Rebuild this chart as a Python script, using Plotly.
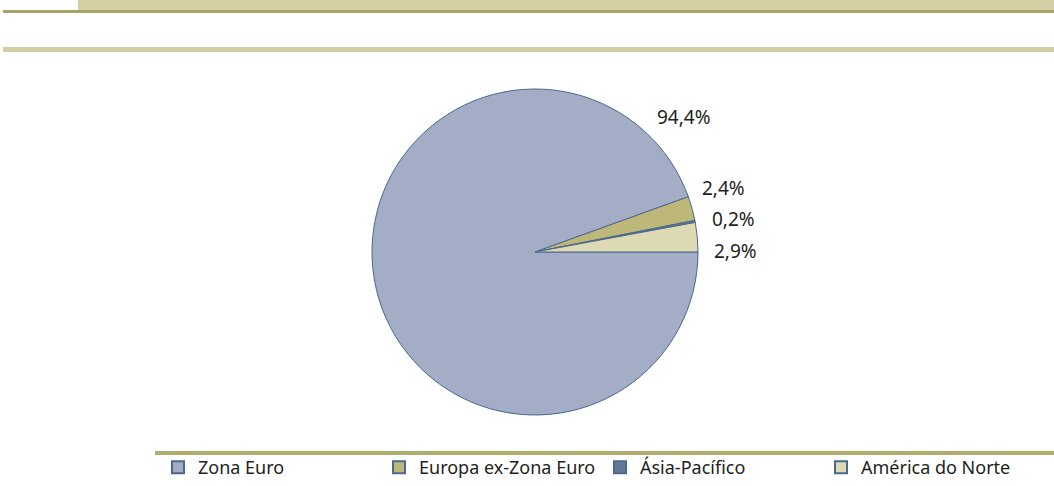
import plotly.graph_objects as go

labels = ["Zona Euro", "Europa ex-Zona Euro", "Ásia-Pacífico", "América do Norte"]
values = [94.4, 2.4, 0.2, 2.9]
colors = ["#A3ADC6", "#BDB87A", "#647895", "#DDD9B3"]
label_text = ["94,4%", "2,4%", "0,2%", "2,9%"]
label_pos = [(655, 117), (700, 188), (710, 219), (712, 251)]  # text anchor positions (px)

W, H = 1054, 486
cx, cy, r = 535, 252, 163

fig = go.Figure(go.Pie(
    labels=labels, values=values, sort=False, direction="clockwise", rotation=90,
    marker=dict(colors=colors, line=dict(color="#4A6890", width=1)),
    textinfo="none",
    domain=dict(x=[(cx - r) / W, (cx + r) / W], y=[1 - (cy + r) / H, 1 - (cy - r) / H]),
    hoverinfo="label+value", showlegend=True,
))

for t, (px, py) in zip(label_text, label_pos):
    fig.add_annotation(text=t, x=px / W, y=1 - py / H, xref="paper", yref="paper",
                       xanchor="left", yanchor="middle", showarrow=False,
                       font=dict(family="Noto Sans", size=19, color="#231F20"))

def hband(y0, y1, x0, x1, color):
    fig.add_shape(type="rect", xref="paper", yref="paper",
                  x0=x0 / W, x1=x1 / W, y0=1 - y1 / H, y1=1 - y0 / H,
                  line=dict(width=0), fillcolor=color, layer="below")

hband(0, 10, 78, 1054, "#D3CFA3")
hband(10, 13, 3, 1054, "#A8A468")
hband(47, 52, 3, 1054, "#D3CFA3")
hband(451, 455, 155, 1054, "#B0AC6C")

fig.update_layout(
    width=W, height=H, autosize=False, margin=dict(l=0, r=0, t=0, b=0),
    paper_bgcolor="white", plot_bgcolor="white",
    font=dict(family="Noto Sans", size=18, color="#231F20"),
    legend=dict(orientation="h", x=158 / W, y=0, xanchor="left", yanchor="bottom",
                entrywidth=176, font=dict(size=18, color="#231F20"), itemsizing="constant",
                bgcolor="rgba(0,0,0,0)"),
)
fig.write_html("out.html", config={"responsive": False, "displayModeBar": False},
               post_script="document.body.style.margin='0';document.body.style.overflow='hidden';")
